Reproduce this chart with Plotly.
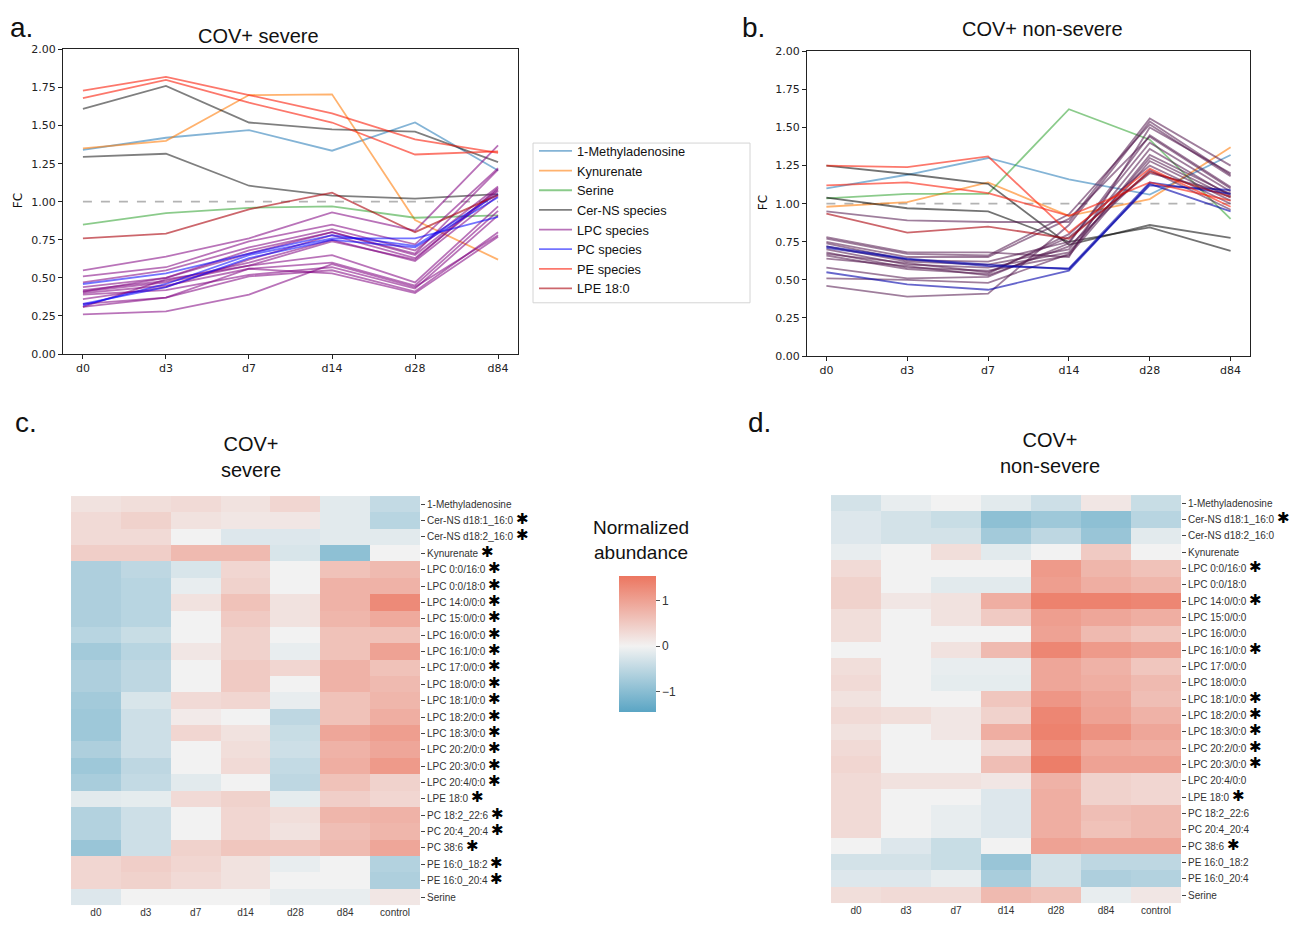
import plotly.graph_objects as go

# ---------------- data ----------------
days = ["d0", "d3", "d7", "d14", "d28", "d84"]

# COV+ severe fold changes
sev_methyladenosine = [1.34, 1.42, 1.47, 1.335, 1.52, 1.205]
sev_kynurenate = [1.35, 1.40, 1.70, 1.705, 0.88, 0.62]
sev_serine = [0.85, 0.925, 0.96, 0.97, 0.895, 0.91]
sev_cer = [
    [1.61, 1.76, 1.52, 1.475, 1.46, 1.26],
    [1.295, 1.315, 1.105, 1.04, 1.02, 1.05],
]
sev_lpc = [
    [0.55, 0.64, 0.76, 0.93, 0.81, 1.37],
    [0.51, 0.57, 0.74, 0.85, 0.72, 1.22],
    [0.47, 0.55, 0.70, 0.82, 0.68, 1.10],
    [0.44, 0.50, 0.66, 0.80, 0.65, 1.08],
    [0.42, 0.48, 0.60, 0.75, 0.61, 1.04],
    [0.41, 0.47, 0.58, 0.65, 0.47, 0.97],
    [0.40, 0.45, 0.56, 0.60, 0.45, 0.94],
    [0.39, 0.42, 0.52, 0.57, 0.43, 0.91],
    [0.33, 0.37, 0.51, 0.55, 0.41, 0.80],
    [0.31, 0.37, 0.56, 0.53, 0.40, 0.77],
    [0.26, 0.28, 0.39, 0.59, 0.44, 0.78],
    [0.41, 0.50, 0.68, 0.80, 0.66, 1.21],
    [0.36, 0.44, 0.62, 0.78, 0.63, 1.07],
    [0.31, 0.49, 0.58, 0.74, 0.62, 1.09],
]
sev_pc = [
    [0.46, 0.53, 0.66, 0.78, 0.71, 1.05],
    [0.32, 0.46, 0.65, 0.76, 0.76, 0.90],
    [0.33, 0.44, 0.63, 0.75, 0.70, 1.03],
]
sev_pe = [
    [1.73, 1.82, 1.70, 1.58, 1.41, 1.32],
    [1.68, 1.80, 1.65, 1.52, 1.31, 1.33],
]
sev_lpe = [0.76, 0.79, 0.95, 1.06, 0.80, 1.045]

# COV+ non-severe fold changes
non_methyladenosine = [1.10, 1.19, 1.30, 1.16, 1.06, 1.32]
non_kynurenate = [0.98, 1.01, 1.14, 0.92, 1.03, 1.37]
non_serine = [1.035, 1.065, 1.065, 1.62, 1.42, 0.90]
non_cer = [
    [1.25, 1.195, 1.13, 0.73, 0.86, 0.775],
    [1.04, 0.97, 0.95, 0.75, 0.845, 0.69],
]
non_lpc = [
    [0.95, 0.89, 0.88, 0.88, 1.56, 1.25],
    [0.78, 0.68, 0.68, 0.65, 1.50, 1.20],
    [0.77, 0.67, 0.66, 0.93, 1.52, 1.18],
    [0.75, 0.65, 0.65, 0.90, 1.44, 1.10],
    [0.74, 0.63, 0.62, 0.75, 1.40, 1.08],
    [0.72, 0.62, 0.60, 0.70, 1.36, 1.05],
    [0.70, 0.60, 0.58, 0.68, 1.30, 1.04],
    [0.68, 0.58, 0.56, 0.66, 1.28, 1.02],
    [0.66, 0.57, 0.54, 0.80, 1.25, 1.00],
    [0.64, 0.59, 0.53, 0.72, 1.22, 0.96],
    [0.58, 0.51, 0.52, 0.74, 1.45, 1.11],
    [0.51, 0.50, 0.48, 0.67, 1.32, 1.06],
    [0.46, 0.39, 0.41, 0.86, 1.54, 1.19],
    [0.67, 0.61, 0.55, 0.78, 1.20, 1.07],
]
non_pc = [
    [0.55, 0.47, 0.435, 0.56, 1.13, 0.95],
    [0.71, 0.635, 0.59, 0.575, 1.14, 1.065],
    [0.72, 0.64, 0.60, 0.57, 1.12, 1.09],
]
non_pe = [
    [1.25, 1.24, 1.31, 0.81, 1.23, 0.98],
    [1.12, 1.14, 1.07, 0.92, 1.14, 1.02],
]
non_lpe = [0.935, 0.81, 0.85, 0.77, 1.21, 1.045]

# Heatmaps
hm_cols = ["d0", "d3", "d7", "d14", "d28", "d84", "control"]
hm_rows = ["1-Methyladenosine", "Cer-NS d18:1_16:0", "Cer-NS d18:2_16:0", "Kynurenate",
           "LPC 0:0/16:0", "LPC 0:0/18:0", "LPC 14:0/0:0", "LPC 15:0/0:0", "LPC 16:0/0:0",
           "LPC 16:1/0:0", "LPC 17:0/0:0", "LPC 18:0/0:0", "LPC 18:1/0:0", "LPC 18:2/0:0",
           "LPC 18:3/0:0", "LPC 20:2/0:0", "LPC 20:3/0:0", "LPC 20:4/0:0", "LPE 18:0",
           "PC 18:2_22:6", "PC 20:4_20:4", "PC 38:6", "PE 16:0_18:2", "PE 16:0_20:4", "Serine"]
sig_severe = [False, True, True, True, True, True, True, True, True, True, True, True, True,
              True, True, True, True, True, True, True, True, True, True, True, False]
sig_nonsevere = [False, True, False, False, True, False, True, False, False, True, False, False,
                 True, True, True, True, True, False, True, False, False, True, False, False, False]

hm_severe = [
    [0.20, 0.25, 0.30, 0.20, 0.35, -0.15, -0.45],
    [0.30, 0.40, 0.20, 0.15, 0.15, -0.15, -0.55],
    [0.30, 0.30, 0.00, -0.20, -0.20, -0.15, -0.15],
    [0.45, 0.45, 0.70, 0.70, -0.25, -0.95, 0.00],
    [-0.65, -0.50, -0.25, 0.35, 0.00, 0.60, 0.70],
    [-0.65, -0.55, -0.10, 0.40, 0.00, 0.80, 0.80],
    [-0.65, -0.55, 0.20, 0.60, 0.20, 0.80, 1.30],
    [-0.65, -0.55, 0.00, 0.50, 0.20, 0.75, 0.90],
    [-0.55, -0.40, 0.00, 0.40, 0.00, 0.60, 0.60],
    [-0.75, -0.55, 0.15, 0.40, -0.10, 0.60, 1.00],
    [-0.65, -0.50, 0.00, 0.50, 0.35, 0.80, 0.60],
    [-0.65, -0.50, 0.00, 0.50, 0.00, 0.80, 0.70],
    [-0.75, -0.25, 0.30, 0.35, -0.10, 0.60, 0.75],
    [-0.80, -0.35, 0.10, 0.00, -0.50, 0.60, 0.85],
    [-0.80, -0.35, 0.35, 0.20, -0.40, 0.95, 1.05],
    [-0.65, -0.35, 0.00, 0.25, -0.35, 0.80, 0.95],
    [-0.80, -0.50, 0.00, 0.30, -0.45, 0.85, 1.10],
    [-0.70, -0.45, -0.15, 0.00, -0.50, 0.60, 0.40],
    [-0.15, -0.12, 0.30, 0.40, -0.12, 0.45, 0.35],
    [-0.60, -0.35, 0.00, 0.35, 0.25, 0.75, 0.80],
    [-0.60, -0.35, 0.00, 0.35, 0.20, 0.65, 0.75],
    [-0.85, -0.35, 0.40, 0.55, 0.55, 0.70, 0.95],
    [0.35, 0.45, 0.35, 0.20, -0.10, 0.00, -0.60],
    [0.35, 0.40, 0.30, 0.20, 0.00, 0.00, -0.65],
    [-0.20, 0.00, 0.00, 0.00, -0.10, -0.10, 0.15],
]
hm_nonsevere = [
    [-0.30, -0.10, 0.00, -0.15, -0.35, 0.15, -0.40],
    [-0.20, -0.30, -0.40, -0.95, -0.80, -0.95, -0.55],
    [-0.20, -0.30, -0.30, -0.75, -0.50, -0.85, -0.15],
    [-0.10, 0.00, 0.25, -0.15, 0.00, 0.50, 0.00],
    [0.30, 0.00, 0.00, 0.00, 1.10, 0.75, 0.60],
    [0.40, 0.00, -0.15, -0.15, 1.05, 0.85, 0.75],
    [0.40, 0.15, 0.20, 0.85, 1.40, 1.40, 1.35],
    [0.25, 0.00, 0.20, 0.50, 1.05, 0.95, 0.85],
    [0.25, 0.00, 0.00, 0.00, 1.00, 0.70, 0.55],
    [0.00, 0.00, 0.20, 0.70, 1.35, 1.10, 1.00],
    [0.25, 0.00, -0.10, -0.10, 0.95, 0.80, 0.55],
    [0.30, 0.00, -0.12, -0.12, 0.95, 0.85, 0.70],
    [0.20, 0.00, 0.00, 0.55, 1.15, 0.95, 0.65],
    [0.30, 0.25, 0.15, 0.40, 1.35, 1.00, 0.80],
    [0.20, 0.00, 0.15, 0.85, 1.40, 1.20, 0.95],
    [0.30, 0.00, 0.00, 0.30, 1.25, 0.90, 0.85],
    [0.35, 0.00, 0.00, 0.65, 1.45, 1.00, 1.00],
    [0.30, 0.20, 0.20, 0.15, 0.80, 0.40, 0.35],
    [0.30, 0.00, 0.00, -0.20, 0.85, 0.40, 0.35],
    [0.30, 0.00, -0.10, -0.20, 0.85, 0.65, 0.70],
    [0.30, 0.00, -0.10, -0.20, 0.85, 0.60, 0.70],
    [0.00, -0.20, -0.40, 0.00, 1.00, 0.95, 0.95],
    [-0.30, -0.30, -0.40, -0.85, -0.30, -0.50, -0.50],
    [-0.20, -0.20, -0.10, -0.70, -0.30, -0.65, -0.60],
    [0.25, 0.30, 0.30, 0.70, 0.60, -0.10, 0.15],
]

# ---------------- styling ----------------
W, H = 1292, 930
SANS = "Liberation Sans, Arial, sans-serif"
MPL = "DejaVu Sans, sans-serif"

def fx(px):
    return px / W

def fy(py):
    return 1 - py / H

colors_sev = {
    "1-Methyladenosine": "rgba(31,119,180,0.55)",
    "Kynurenate": "rgba(255,127,14,0.6)",
    "Serine": "rgba(44,160,44,0.55)",
    "Cer-NS species": "rgba(0,0,0,0.5)",
    "LPC species": "rgba(128,0,128,0.55)",
    "PC species": "rgba(0,0,255,0.55)",
    "PE species": "rgba(250,30,10,0.6)",
    "LPE 18:0": "rgba(170,0,10,0.6)",
}
colors_non = dict(colors_sev)
colors_non.update({
    "Cer-NS species": "rgba(0,0,0,0.55)",
    "LPC species": "rgba(80,20,75,0.55)",
    "PC species": "rgba(0,0,170,0.6)",
})

sev_groups = [
    ("1-Methyladenosine", [sev_methyladenosine]),
    ("Kynurenate", [sev_kynurenate]),
    ("Serine", [sev_serine]),
    ("Cer-NS species", sev_cer),
    ("LPC species", sev_lpc),
    ("PC species", sev_pc),
    ("PE species", sev_pe),
    ("LPE 18:0", [sev_lpe]),
]
non_groups = [
    ("1-Methyladenosine", [non_methyladenosine]),
    ("Kynurenate", [non_kynurenate]),
    ("Serine", [non_serine]),
    ("Cer-NS species", non_cer),
    ("LPC species", non_lpc),
    ("PC species", non_pc),
    ("PE species", non_pe),
    ("LPE 18:0", [non_lpe]),
]

fig = go.Figure()

def add_lines(groups, colors, xa, ya, legend):
    # reference line at FC = 1
    fig.add_trace(go.Scatter(x=[days[0], days[-1]], y=[1, 1], mode="lines",
                             line=dict(color="rgba(160,160,160,0.8)", width=1.8, dash="dash"),
                             xaxis=xa, yaxis=ya, showlegend=False, hoverinfo="skip"))
    for name, series in groups:
        for i, s in enumerate(series):
            fig.add_trace(go.Scatter(
                x=days, y=s, mode="lines", name=name,
                line=dict(color=colors[name], width=1.8),
                xaxis=xa, yaxis=ya,
                showlegend=(legend and i == 0), legendgroup=name))

add_lines(sev_groups, colors_sev, "x", "y", True)
add_lines(non_groups, colors_non, "x2", "y2", False)

# heatmaps
def labels(sig):
    out = []
    for r, s in zip(hm_rows, sig):
        if s:
            out.append(r + " <span style='font-size:15px;color:#000'>\u2731</span>")
        else:
            out.append(r)
    return out

fig.add_trace(go.Heatmap(z=hm_severe, x=hm_cols, y=hm_rows, coloraxis="coloraxis",
                         xaxis="x3", yaxis="y3", xgap=0, ygap=0))
fig.add_trace(go.Heatmap(z=hm_nonsevere, x=hm_cols, y=hm_rows, coloraxis="coloraxis",
                         xaxis="x4", yaxis="y4", xgap=0, ygap=0))

line_x = dict(showline=True, mirror=True, linecolor="#222", linewidth=1.2,
              ticks="outside", ticklen=4, tickcolor="#222", showgrid=False, zeroline=False,
              tickfont=dict(family=MPL, size=11, color="#222"), range=[-0.24, 5.24],
              type="category", categoryorder="array", categoryarray=days)
line_y = dict(showline=True, mirror=True, linecolor="#222", linewidth=1.2,
              ticks="outside", ticklen=4, tickcolor="#222", showgrid=False, zeroline=False,
              tickfont=dict(family=MPL, size=11, color="#222"), range=[0, 2], dtick=0.25,
              tickformat=".2f")

hm_x = dict(showline=False, ticks="", showgrid=False, zeroline=False,
            tickfont=dict(family=SANS, size=10, color="#333"))
hm_y = dict(showline=False, ticks="outside", ticklen=4, tickcolor="#444", side="right",
            showgrid=False, zeroline=False, autorange="reversed",
            tickfont=dict(family=SANS, size=10, color="#333"))

CMIN, CMAX = -1.45, 1.55
mid = -CMIN / (CMAX - CMIN)

fig.update_layout(
    width=W, height=H, margin=dict(l=0, r=0, t=0, b=0),
    paper_bgcolor="white", plot_bgcolor="white",
    xaxis=dict(domain=[fx(63), fx(518)], anchor="y", **line_x),
    yaxis=dict(domain=[fy(353), fy(44)], anchor="x", **line_y),
    xaxis2=dict(domain=[fx(807), fx(1250)], anchor="y2", **line_x),
    yaxis2=dict(domain=[fy(355), fy(46)], anchor="x2", **line_y),
    xaxis3=dict(domain=[fx(71), fx(420)], anchor="y3", **hm_x),
    yaxis3=dict(domain=[fy(912), fy(497)], anchor="x3", tickvals=hm_rows,
                ticktext=labels(sig_severe), **hm_y),
    xaxis4=dict(domain=[fx(831), fx(1181)], anchor="y4", **hm_x),
    yaxis4=dict(domain=[fy(910), fy(496)], anchor="x4", tickvals=hm_rows,
                ticktext=labels(sig_nonsevere), **hm_y),
    coloraxis=dict(
        cmin=CMIN, cmax=CMAX,
        colorscale=[[0, "#5AA5C4"], [mid, "#F2F2F2"], [1, "#EC7660"]],
        colorbar=dict(x=fx(619), xanchor="left", y=fy(647), yanchor="middle",
                      xpad=0, ypad=0,
                      thickness=37, thicknessmode="pixels", len=136, lenmode="pixels",
                      outlinewidth=0, ticks="outside", ticklen=4, tickcolor="#555",
                      tickvals=[-1, 0, 1], ticktext=["\u22121", "0", "1"],
                      tickfont=dict(family=SANS, size=12, color="#333")),
    ),
    legend=dict(x=fx(534), y=fy(132), xanchor="left", yanchor="top",
                bgcolor="rgba(0,0,0,0)", borderwidth=0, itemwidth=33,
                font=dict(family=SANS, size=12.8, color="#111"),
                tracegroupgap=0),
    showlegend=True,
)

# legend frame
fig.add_shape(type="rect", xref="paper", yref="paper",
              x0=fx(533), x1=fx(750), y0=fy(301), y1=fy(139),
              line=dict(color="#d4d4d4", width=1), fillcolor="rgba(0,0,0,0)", layer="below")

ann = [
    dict(text="a.", x=fx(8), y=fy(22), xanchor="left", size=28),
    dict(text="b.", x=fx(740), y=fy(22), xanchor="left", size=28),
    dict(text="c.", x=fx(13), y=fy(422), xanchor="left", size=28),
    dict(text="d.", x=fx(746), y=fy(422), xanchor="left", size=28),
    dict(text="COV+ severe", x=fx(258), y=fy(30), xanchor="center", size=20),
    dict(text="COV+ non-severe", x=fx(1042), y=fy(23), xanchor="center", size=20),
    dict(text="COV+<br>severe", x=fx(251), y=fy(457), xanchor="center", size=20),
    dict(text="COV+<br>non-severe", x=fx(1050), y=fy(453), xanchor="center", size=20),
    dict(text="Normalized<br>abundance", x=fx(641), y=fy(542), xanchor="center", size=19),
]
for a in ann:
    fig.add_annotation(text=a["text"], x=a["x"], y=a["y"], xref="paper", yref="paper",
                       xanchor=a["xanchor"], yanchor="middle", showarrow=False,
                       font=dict(family=SANS, size=a["size"], color="#111"))
for xp, yp in [(18, 198), (763, 200)]:
    fig.add_annotation(text="FC", x=fx(xp), y=fy(yp), xref="paper", yref="paper",
                       xanchor="center", yanchor="middle", showarrow=False, textangle=-90,
                       font=dict(family=MPL, size=12, color="#111"))

fig.write_html("out.html", config={"displayModeBar": False},
               post_script="document.body.style.margin='0px';")
